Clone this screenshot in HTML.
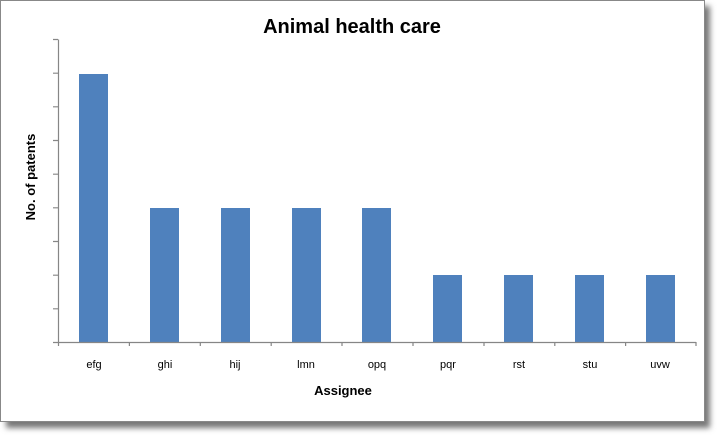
<!DOCTYPE html>
<html><head><style>
body{margin:0;width:721px;height:438px;background:#fff;overflow:hidden;font-family:"Liberation Sans",sans-serif}
</style></head><body>
<svg width="721" height="438" xmlns="http://www.w3.org/2000/svg">
<defs><filter id="s" x="-5%" y="-5%" width="115%" height="115%"><feGaussianBlur stdDeviation="3"/></filter></defs>
<rect x="6" y="6" width="704" height="422" fill="#777" filter="url(#s)"/>
<rect x="0.5" y="0.5" width="704" height="421" fill="#fff" stroke="#888" stroke-width="1"/>
<text x="352" y="33" text-anchor="middle" font-size="20" font-weight="bold" fill="#000">Animal health care</text>
<g fill="#4f81bd">
<rect x="79" y="74" width="29" height="268"/>
<rect x="150" y="208" width="29" height="134"/>
<rect x="221" y="208" width="29" height="134"/>
<rect x="292" y="208" width="29" height="134"/>
<rect x="362" y="208" width="29" height="134"/>
<rect x="433" y="275" width="29" height="67"/>
<rect x="504" y="275" width="29" height="67"/>
<rect x="575" y="275" width="29" height="67"/>
<rect x="646" y="275" width="29" height="67"/>
</g>
<g stroke="#868686" stroke-width="1.2" fill="none">
<path d="M58.5 39.5V342.5H696"/>
<path d="M53 39.5h5M53 73.2h5M53 106.8h5M53 140.5h5M53 174.2h5M53 207.8h5M53 241.5h5M53 275.2h5M53 308.8h5M53 342.5h5"/>
<path d="M58.5 342v4M129.4 342v4M200.3 342v4M271.2 342v4M342 342v4M413 342v4M484 342v4M554.8 342v4M625.6 342v4M696 342v4"/>
</g>
<g font-size="11" fill="#000" text-anchor="middle">
<text x="94" y="368">efg</text><text x="165" y="368">ghi</text><text x="235" y="368">hij</text>
<text x="306" y="368">lmn</text><text x="377" y="368">opq</text><text x="448" y="368">pqr</text>
<text x="519" y="368">rst</text><text x="590" y="368">stu</text><text x="660" y="368">uvw</text>
</g>
<text x="343" y="395" text-anchor="middle" font-size="13" font-weight="bold">Assignee</text>
<text transform="translate(35,177) rotate(-90)" text-anchor="middle" font-size="13" font-weight="bold">No. of patents</text>
</svg>
</body></html>
